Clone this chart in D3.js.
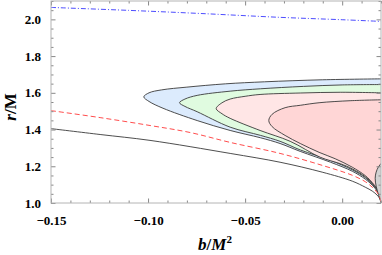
<!DOCTYPE html>
<html>
<head>
<meta charset="utf-8">
<script src="https://cdn.jsdelivr.net/npm/d3@7"></script>
<style>
  body { margin: 0; background: #fff; }
  .tick text { font-family: "Liberation Serif", serif; font-weight: bold; font-size: 13px; fill: #000; }
  .lbl { font-family: "Liberation Serif", serif; font-weight: bold; font-size: 17px; }
</style>
</head>
<body>
<script>
// Chart size and plot margins
var svgWidth = 382;
var svgHeight = 255;
var margin = { top: 1, right: 1, bottom: 52, left: 51 };
var width = svgWidth - margin.left - margin.right;
var height = svgHeight - margin.top - margin.bottom;

// Tick values
var xMajor = [-0.15, -0.10, -0.05, 0.00];
var xMinor = [-0.14, -0.13, -0.12, -0.11, -0.09, -0.08, -0.07, -0.06, -0.04, -0.03, -0.02, -0.01, 0.01, 0.02];
var yMajor = [1.0, 1.2, 1.4, 1.6, 1.8, 2.0];
var yMinor = [1.05, 1.1, 1.15, 1.25, 1.3, 1.35, 1.45, 1.5, 1.55, 1.65, 1.7, 1.75, 1.85, 1.9, 1.95, 2.05, 2.1];

// Curves, [b, r]
var blueLoop = [[0.02, 1.676], [-0.01, 1.671], [-0.04, 1.660], [-0.06, 1.649], [-0.08, 1.631], [-0.093, 1.616],
  [-0.0995, 1.600], [-0.1022, 1.578], [-0.0995, 1.553], [-0.0923, 1.516], [-0.0747, 1.449], [-0.0577, 1.395],
  [-0.042, 1.355], [-0.032, 1.324], [-0.0216, 1.281], [-0.006, 1.222], [0.0052, 1.173], [0.0119, 1.130],
  [0.0155, 1.097], [0.018, 1.065], [0.0195, 1.032], [0.02, 1.0]];
var greenLoop = [[0.02, 1.645], [0.0, 1.643], [-0.02, 1.635], [-0.042, 1.622], [-0.0577, 1.609], [-0.0747, 1.586],
  [-0.081, 1.566], [-0.0838, 1.546], [-0.081, 1.526], [-0.0747, 1.497], [-0.0577, 1.413], [-0.042, 1.368],
  [-0.032, 1.336], [-0.0216, 1.289], [-0.006, 1.232], [0.0052, 1.181], [0.0119, 1.138], [0.0155, 1.103],
  [0.018, 1.070], [0.0195, 1.035], [0.02, 1.0]];
var pinkLoop = [[0.02, 1.600], [-0.001, 1.603], [-0.0216, 1.599], [-0.0423, 1.591], [-0.05, 1.581], [-0.0577, 1.566],
  [-0.0619, 1.546], [-0.0649, 1.514], [-0.0619, 1.486], [-0.0577, 1.461], [-0.0423, 1.395], [-0.0268, 1.336],
  [-0.0113, 1.249], [-0.001, 1.214], [0.0052, 1.186], [0.0119, 1.143], [0.0155, 1.108], [0.018, 1.073],
  [0.0195, 1.038], [0.02, 1.0]];
var innerLoop = [[0.02, 1.562], [0.0041, 1.557], [-0.0119, 1.546], [-0.0216, 1.532], [-0.0294, 1.519],
  [-0.0361, 1.483], [-0.0378, 1.449], [-0.0361, 1.416], [-0.0294, 1.368], [-0.0216, 1.324], [-0.0119, 1.276],
  [-0.0036, 1.241], [0.0052, 1.195], [0.0119, 1.149], [0.0155, 1.111], [0.018, 1.076], [0.0196, 1.041], [0.02, 1.0]];
var greyLoop = [[0.0201, 1.216], [0.0186, 1.195], [0.0175, 1.168], [0.017, 1.135], [0.0175, 1.092],
  [0.0186, 1.049], [0.0196, 1.016], [0.02, 1.0]];
var redCurve = [[-0.15, 1.503], [-0.1247, 1.465], [-0.099, 1.422], [-0.0784, 1.384], [-0.0577, 1.330],
  [-0.032, 1.270], [-0.0103, 1.205], [0.0052, 1.151], [0.0119, 1.116], [0.0155, 1.086], [0.018, 1.057],
  [0.0195, 1.027], [0.02, 1.0]];
var blackCurve = [[-0.15, 1.405], [-0.1247, 1.373], [-0.099, 1.341], [-0.0577, 1.270], [-0.032, 1.222],
  [-0.0103, 1.168], [0.0052, 1.119], [0.0119, 1.086], [0.0155, 1.065], [0.018, 1.043], [0.0195, 1.022], [0.02, 1.0]];
var blueDashDot = [[-0.15, 2.065], [-0.11, 2.049], [-0.073, 2.032], [-0.032, 2.011], [0.0, 1.998], [0.02, 1.989]];

var svg = d3.select("body").append("svg")
  .attr("width", svgWidth)
  .attr("height", svgHeight);

var chartGroup = svg.append("g")
  .attr("transform", `translate(${margin.left}, ${margin.top})`);

var xScale = d3.scaleLinear().domain([-0.15, 0.02]).range([0, width]);
var yScale = d3.scaleLinear().domain([1.0, 2.1]).range([height, 0]);

svg.append("defs").append("clipPath").attr("id", "clip")
  .append("rect").attr("width", width).attr("height", height);

var plot = chartGroup.append("g").attr("clip-path", "url(#clip)");

var line = d3.line()
  .x(d => xScale(d[0]))
  .y(d => yScale(d[1]))
  .curve(d3.curveCatmullRom.alpha(0.5));

// filled regions, outer first
var loops = [
  [blueLoop, "#dcebfd"],
  [greenLoop, "#e0fbe0"],
  [pinkLoop, "#ffe6e6"],
  [innerLoop, "#ffd6d6"],
  [greyLoop, "#d2d2d2"]
];
loops.forEach(function(l) {
  plot.append("path").attr("d", line(l[0]) + "Z").attr("fill", l[1]).attr("stroke", "none");
  plot.append("path").attr("d", line(l[0])).attr("fill", "none")
    .attr("stroke", "#3a3a3a").attr("stroke-width", 0.9);
});

plot.append("path").attr("d", line(blackCurve)).attr("fill", "none")
  .attr("stroke", "#3a3a3a").attr("stroke-width", 0.9);
plot.append("path").attr("d", line(redCurve)).attr("fill", "none")
  .attr("stroke", "#ff4d4d").attr("stroke-width", 1).attr("stroke-dasharray", "5,3");
plot.append("path").attr("d", line(blueDashDot)).attr("fill", "none")
  .attr("stroke", "#4d4dff").attr("stroke-width", 1).attr("stroke-dasharray", "5,2,1,2");

// frame and ticks
function addAxis(axisFn, scale, major, minor, size, labels, transform) {
  var g = chartGroup.append("g").attr("transform", transform);
  g.call(axisFn(scale).tickValues(minor).tickSize(-2.5).tickFormat(""));
  var g2 = chartGroup.append("g").attr("transform", transform);
  g2.call(axisFn(scale).tickValues(major).tickSize(-4.5).tickPadding(labels ? size : 0)
    .tickFormat(labels ? labels : ""));
  [g, g2].forEach(function(s) {
    s.select(".domain").remove();
    s.selectAll(".tick line").attr("stroke", "#888");
  });
}

var fmtX = d => (d < 0 ? "\u2212" : "") + Math.abs(d).toFixed(2);
var fmtY = d => d.toFixed(1);
addAxis(d3.axisBottom, xScale, xMajor, xMinor, 13, fmtX, `translate(0, ${height})`);
addAxis(d3.axisTop, xScale, xMajor, xMinor, 0, null, "translate(0, 0)");
addAxis(d3.axisLeft, yScale, yMajor, yMinor, 10, fmtY, "translate(0, 0)");
addAxis(d3.axisRight, yScale, yMajor, yMinor, 0, null, `translate(${width}, 0)`);

chartGroup.append("rect")
  .attr("x", 0).attr("y", 0).attr("width", width).attr("height", height)
  .attr("fill", "none").attr("stroke", "#b4b4b4").attr("stroke-width", 1);

// axis labels
var xl = svg.append("text").attr("class", "lbl")
  .attr("x", 215).attr("y", 250).attr("text-anchor", "middle");
xl.append("tspan").attr("font-style", "italic").text("b");
xl.append("tspan").text("/");
xl.append("tspan").attr("font-style", "italic").text("M");
xl.append("tspan").attr("font-size", "11px").attr("dy", -7).text("2");

var yl = svg.append("text").attr("class", "lbl")
  .attr("transform", "translate(16, 107) rotate(-90)").attr("text-anchor", "middle");
yl.append("tspan").attr("font-style", "italic").text("r");
yl.append("tspan").text("/M");
</script>
</body>
</html>
